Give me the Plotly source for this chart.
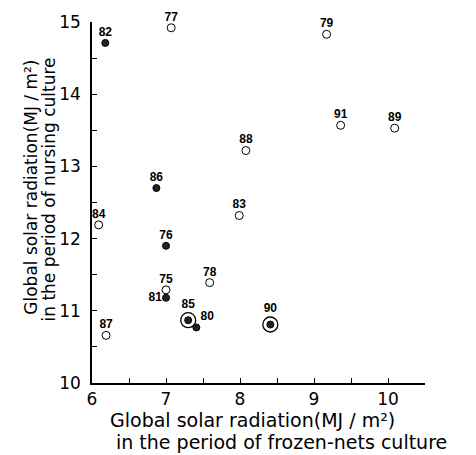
import plotly.graph_objects as go

# Year labels and values (MJ/m2)
years_open = ["77", "79", "91", "89", "88", "84", "83", "78", "75", "87"]
x_open = [7.07, 9.17, 9.36, 10.09, 8.08, 6.09, 7.99, 7.59, 7.00, 6.19]
y_open = [14.92, 14.83, 13.57, 13.53, 13.22, 12.19, 12.32, 11.39, 11.29, 10.66]

years_filled = ["82", "86", "76", "81", "80"]
x_filled = [6.18, 6.87, 7.00, 7.00, 7.41]
y_filled = [14.71, 12.70, 11.90, 11.18, 10.77]

years_ringed = ["85", "90"]
x_ringed = [7.30, 8.41]
y_ringed = [10.87, 10.81]

label_pos = {"81": "middle left", "80": "top right"}

x_ticks = [6, 6.5, 7, 7.5, 8, 8.5, 9, 9.5, 10]
y_ticks = [10, 10.5, 11, 11.5, 12, 12.5, 13, 13.5, 14, 14.5, 15]

FONT = "DejaVu Sans"
LABEL_FONT = dict(family="Liberation Sans", size=12, color="black", weight="bold")

fig = go.Figure()
fig.add_trace(go.Scatter(x=x_open, y=y_open, mode="markers",
                         marker=dict(symbol="circle-open", size=8, color="black",
                                     line=dict(width=1)),
                         cliponaxis=False, showlegend=False))
fig.add_trace(go.Scatter(x=x_filled + x_ringed, y=y_filled + y_ringed, mode="markers",
                         marker=dict(symbol="circle", size=7, color="#222",
                                     line=dict(width=1, color="black")),
                         cliponaxis=False, showlegend=False))
fig.add_trace(go.Scatter(x=x_ringed, y=y_ringed, mode="markers",
                         marker=dict(symbol="circle-open", size=15, color="black",
                                     line=dict(width=1.3)),
                         cliponaxis=False, showlegend=False))

plain_years = years_open + years_filled
plain_x = x_open + x_filled
plain_y = y_open + y_filled
fig.add_trace(go.Scatter(x=plain_x, y=plain_y, mode="markers+text", text=plain_years,
                         textposition=[label_pos.get(yr, "top center") for yr in plain_years],
                         textfont=LABEL_FONT,
                         marker=dict(size=5, opacity=0),
                         cliponaxis=False, showlegend=False, hoverinfo="skip"))
fig.add_trace(go.Scatter(x=x_ringed, y=y_ringed, mode="markers+text", text=years_ringed,
                         textposition="top center", textfont=LABEL_FONT,
                         marker=dict(size=13, opacity=0),
                         cliponaxis=False, showlegend=False, hoverinfo="skip"))

fig.update_xaxes(range=[6, 10.5], showline=True, linecolor="black", linewidth=1.5,
                 ticks="inside", ticklen=5, tickcolor="black", tickwidth=1.2,
                 tickvals=x_ticks,
                 ticktext=[str(int(v)) if v == int(v) else "" for v in x_ticks],
                 tickfont=dict(family=FONT, size=17, color="black"),
                 ticklabelstandoff=0,
                 showgrid=False, zeroline=False)
fig.update_yaxes(range=[10, 15], showline=True, linecolor="black", linewidth=1.5,
                 ticks="inside", ticklen=5, tickcolor="black", tickwidth=1.2,
                 tickvals=y_ticks,
                 ticktext=[str(int(v)) if v == int(v) else "" for v in y_ticks],
                 tickfont=dict(family=FONT, size=17, color="black"),
                 ticklabelstandoff=6,
                 showgrid=False, zeroline=False)

tf = dict(family=FONT, size=19, color="black")
fig.add_annotation(text="Global solar radiation(MJ / m²)", xref="paper", yref="paper",
                   x=0, xshift=16, y=0, yshift=-37, xanchor="left", yanchor="middle",
                   showarrow=False, font=tf)
fig.add_annotation(text="in the period of frozen-nets culture", xref="paper", yref="paper",
                   x=0, xshift=22, y=0, yshift=-59, xanchor="left", yanchor="middle",
                   showarrow=False, font=tf)
tfy = dict(family=FONT, size=17, color="black")
fig.add_annotation(text="Global solar radiation(MJ / m²)", xref="paper", yref="paper",
                   x=0, xshift=-61, y=0.541, xanchor="center", yanchor="middle", textangle=-90,
                   showarrow=False, font=tfy)
fig.add_annotation(text="in the period of nursing culture", xref="paper", yref="paper",
                   x=0, xshift=-43, y=0.536, xanchor="center", yanchor="middle", textangle=-90,
                   showarrow=False, font=tfy)

fig.update_layout(width=476, height=455, margin=dict(l=92, r=51, t=19, b=72),
                  plot_bgcolor="white", paper_bgcolor="white")
fig.write_html("out.html")
